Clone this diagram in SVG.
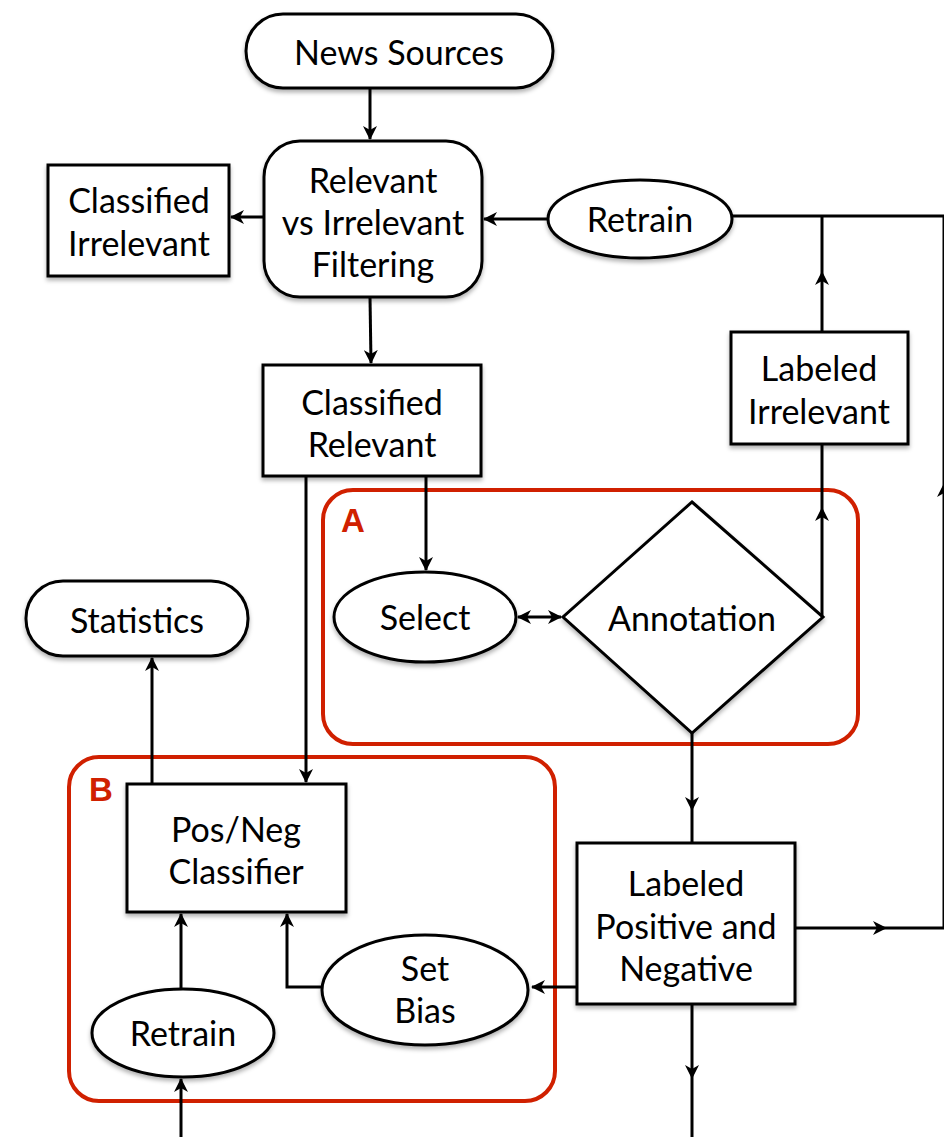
<svg xmlns="http://www.w3.org/2000/svg" width="944" height="1137" viewBox="0 0 944 1137">
<style>
.n{fill:#fff;stroke:#000;stroke-width:3;filter:url(#sh)}
.t{font-family:Lato,"Open Sans",sans-serif;font-size:34px;fill:#000;text-anchor:middle;dominant-baseline:central}
.c{fill:none;stroke:#000;stroke-width:3}
.e{fill:none;stroke:#888;stroke-width:3}
.g{fill:none;stroke:#d02000;stroke-width:4}
.gl{font-family:"Liberation Sans",Arial,sans-serif;font-weight:bold;font-size:33px;fill:#d02000}
</style>
<defs>
<filter id="sh" x="-10%" y="-10%" width="120%" height="125%"><feDropShadow dx="0" dy="3" stdDeviation="2" flood-opacity="0.3"/></filter>
<marker id="ar" viewBox="0 0 14 14" refX="13" refY="7" markerWidth="14" markerHeight="14" markerUnits="userSpaceOnUse" orient="auto-start-reverse"><path d="M0,0 L14,7 L0,14 L4,7 z" fill="#000"/></marker>
</defs>
<g id="groups">
<rect class="g" x="323" y="490" width="535" height="254" rx="30"/>
<text class="gl" x="341" y="532">A</text>
<rect class="g" x="69" y="757" width="486" height="344" rx="30"/>
<text class="gl" x="89" y="801">B</text>
</g>
<g id="connectors">
<line class="c" x1="370" y1="88" x2="370" y2="139" marker-end="url(#ar)"/>
<line class="c" x1="264" y1="217" x2="231" y2="217" marker-end="url(#ar)"/>
<line class="c" x1="548" y1="219" x2="484" y2="219" marker-end="url(#ar)"/>
<line class="c" x1="732" y1="216" x2="944" y2="216"/>
<line class="c" x1="822" y1="332" x2="822" y2="272" marker-end="url(#ar)"/>
<line class="c" x1="822" y1="272" x2="822" y2="216"/>
<line class="c" x1="822" y1="617" x2="822" y2="508" marker-end="url(#ar)"/>
<line class="c" x1="822" y1="508" x2="822" y2="444"/>
<line class="c" x1="944" y1="928" x2="944" y2="484" marker-end="url(#ar)"/>
<line class="c" x1="944" y1="484" x2="944" y2="216"/>
<line class="c" x1="370" y1="297" x2="371" y2="363" marker-end="url(#ar)"/>
<line class="c" x1="426" y1="476" x2="426" y2="570" marker-end="url(#ar)"/>
<line class="c" x1="306" y1="476" x2="306" y2="782" marker-end="url(#ar)"/>
<line class="c" x1="518" y1="617" x2="561" y2="617" marker-start="url(#ar)" marker-end="url(#ar)"/>
<line class="c" x1="692" y1="733" x2="692" y2="810" marker-end="url(#ar)"/>
<line class="c" x1="692" y1="810" x2="692" y2="843"/>
<line class="c" x1="795" y1="928" x2="886" y2="928" marker-end="url(#ar)"/>
<line class="c" x1="886" y1="928" x2="944" y2="928"/>
<line class="c" x1="577" y1="987" x2="532" y2="987" marker-end="url(#ar)"/>
<line class="c" x1="692" y1="1004" x2="692" y2="1078" marker-end="url(#ar)"/>
<line class="c" x1="692" y1="1078" x2="692" y2="1137"/>
<line class="c" x1="152" y1="784" x2="152" y2="658" marker-end="url(#ar)"/>
<polyline class="c" points="322,987 287,987 287,914" marker-end="url(#ar)"/>
<line class="c" x1="181" y1="989" x2="181" y2="914" marker-end="url(#ar)"/>
<line class="c" x1="181" y1="1137" x2="181" y2="1079" marker-end="url(#ar)"/>
</g>
<g id="news-sources">
<rect class="n" x="246" y="14" width="307" height="74" rx="37"/>
<text class="t" x="399" y="51">News Sources</text>
</g>
<g id="filtering">
<rect class="n" x="264" y="141" width="218" height="156" rx="36"/>
<text class="t" x="373" y="179">Relevant</text>
<text class="t" x="373" y="221">vs Irrelevant</text>
<text class="t" x="373" y="263">Filtering</text>
</g>
<g id="classified-irrelevant">
<rect class="n" x="48" y="165" width="181" height="111"/>
<text class="t" x="139" y="199">Classified</text>
<text class="t" x="139" y="242">Irrelevant</text>
</g>
<g id="retrain-top">
<ellipse class="n" cx="640" cy="219" rx="92" ry="39"/>
<text class="t" x="640" y="218">Retrain</text>
</g>
<g id="labeled-irrelevant">
<rect class="n" x="731" y="332" width="177" height="112"/>
<text class="t" x="819" y="367">Labeled</text>
<text class="t" x="819" y="410">Irrelevant</text>
</g>
<g id="classified-relevant">
<rect class="n" x="263" y="365" width="218" height="111"/>
<text class="t" x="372" y="401">Classified</text>
<text class="t" x="372" y="443">Relevant</text>
</g>
<g id="select">
<ellipse class="n" cx="425" cy="617" rx="91" ry="45"/>
<text class="t" x="425" y="616">Select</text>
</g>
<g id="annotation">
<polygon class="n" points="692,502 823,617 692,733 563,617"/>
<text class="t" x="692" y="617">Annotation</text>
</g>
<g id="statistics">
<rect class="n" x="26" y="581" width="222" height="75" rx="37"/>
<text class="t" x="137" y="619">Statistics</text>
</g>
<g id="posneg-classifier">
<rect class="n" x="127" y="784" width="219" height="128"/>
<text class="t" x="236" y="828">Pos/Neg</text>
<text class="t" x="236" y="870">Classifier</text>
</g>
<g id="labeled-posneg">
<rect class="n" x="577" y="843" width="218" height="161"/>
<text class="t" x="686" y="882">Labeled</text>
<text class="t" x="686" y="925">Positive and</text>
<text class="t" x="686" y="967">Negative</text>
</g>
<g id="set-bias">
<ellipse class="n" cx="425" cy="990" rx="103" ry="55"/>
<text class="t" x="425" y="967">Set</text>
<text class="t" x="425" y="1009">Bias</text>
</g>
<g id="retrain-bottom">
<ellipse class="n" cx="183" cy="1033" rx="91" ry="44"/>
<text class="t" x="183" y="1032">Retrain</text>
</g>
</svg>
